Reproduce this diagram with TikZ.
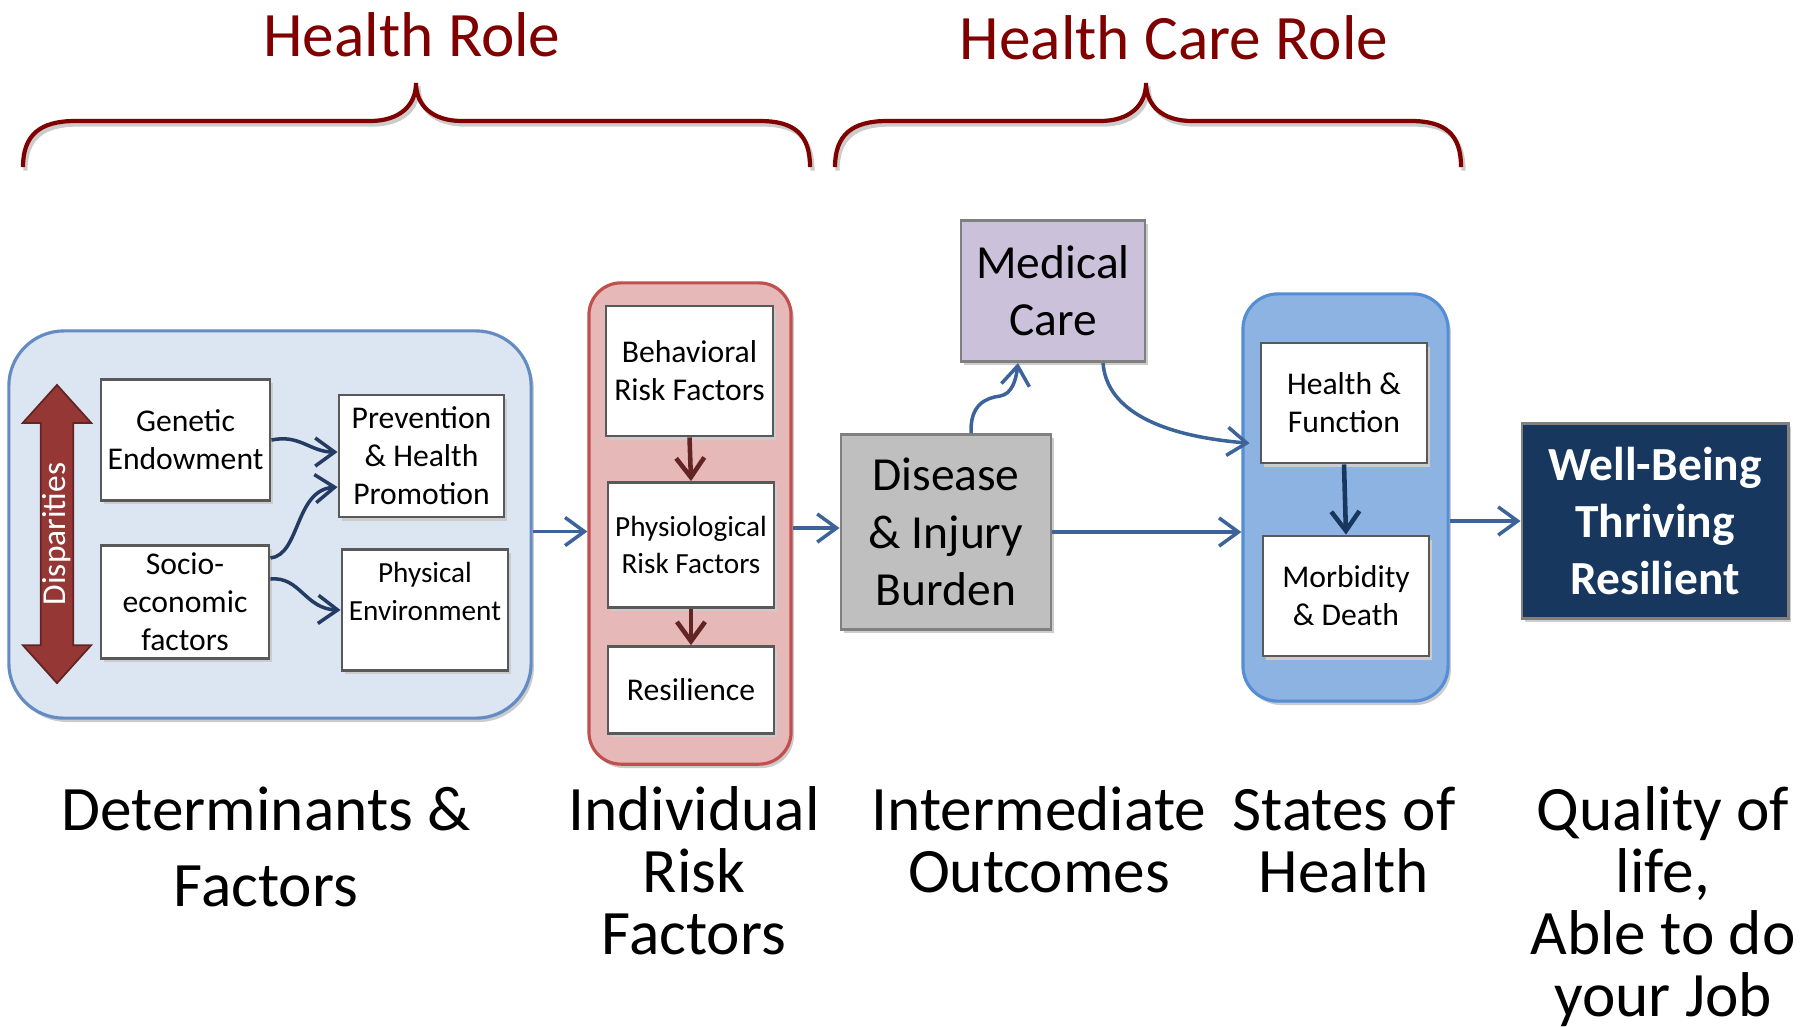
\documentclass[tikz,border=0pt]{standalone}
\usepackage{fontspec}
\setmainfont{Carlito}
\usetikzlibrary{arrows.meta,shapes.arrows,shadows}

\definecolor{rolered}{RGB}{128,0,0}
\definecolor{detfill}{RGB}{220,230,242}
\definecolor{detline}{RGB}{100,140,195}
\definecolor{riskfill}{RGB}{230,185,184}
\definecolor{riskline}{RGB}{192,80,77}
\definecolor{statefill}{RGB}{141,179,226}
\definecolor{stateline}{RGB}{85,142,213}
\definecolor{medfill}{RGB}{204,193,218}
\definecolor{wellfill}{RGB}{23,55,94}
\definecolor{flowblue}{RGB}{60,100,155}
\definecolor{flownavy}{RGB}{36,60,100}
\definecolor{darkred}{RGB}{99,37,35}
\definecolor{disparity}{RGB}{149,55,53}
\definecolor{boxline}{RGB}{89,89,89}

\tikzset{
  shadowed/.style={drop shadow={shadow xshift=0.8pt, shadow yshift=-1.1pt, fill=black!20, opacity=1}},
  smallbox/.style={draw=boxline, fill=white, line width=0.8pt, align=center, inner sep=0pt,
    font=\fontsize{9}{10.8}\selectfont, shadowed},
  bigbox/.style={draw=gray, line width=0.8pt, align=center, inner sep=0pt,
    font=\fontsize{13.5}{16.3}\selectfont, shadowed},
  groupbox/.style={line width=0.9pt, inner sep=0pt, shadowed},
  flow/.style={draw=flowblue, line width=1pt, -{Straight Barb[length=5.5pt,width=8pt]}},
  innerflow/.style={line width=1.3pt, -{Straight Barb[length=5.5pt,width=8pt]}},
  brace/.style={draw=rolered, line width=1.2pt,
    preaction={draw=black!20, line width=1.2pt, transform canvas={shift={(0.7pt,-1pt)}}}},
  role/.style={text=rolered, font=\fontsize{18}{21.6}\selectfont, anchor=base},
  stage/.style={align=center, anchor=north, inner sep=0pt, font=\fontsize{18}{17.6}\selectfont}
}

\begin{document}
\begin{tikzpicture}[x=0.01cm, y=-0.01cm]
  \useasboundingbox (0,0) rectangle (1801,1026);

  % roles and braces
  \node[role] (hrole) at (412,56) {Health Role};
  \node[role] (hcrole) at (1174,59) {Health Care Role};
  \draw[brace] (23,167) .. controls (23,135) and (40,121) .. (75,121) -- (370,121)
    .. controls (400,121) and (416,105) .. (416,83) .. controls (416,105) and (432,121) .. (462,121)
    -- (760,121) .. controls (795,121) and (810,135) .. (810,167);
  \draw[brace] (835,167) .. controls (835,135) and (852,121) .. (887,121) -- (1100,121)
    .. controls (1130,121) and (1146,105) .. (1146,83) .. controls (1146,105) and (1162,121) .. (1192,121)
    -- (1411,121) .. controls (1446,121) and (1461,135) .. (1461,167);

  % group boxes
  \node[groupbox, draw=detline, fill=detfill, rounded corners=0.55cm,
    minimum width=5.22cm, minimum height=3.87cm] (det) at (270,524.5) {};
  \node[groupbox, draw=riskline, fill=riskfill, rounded corners=0.32cm,
    minimum width=2.02cm, minimum height=4.81cm] (rb) at (690,523.5) {};
  \node[groupbox, draw=stateline, fill=statefill, rounded corners=0.35cm,
    minimum width=2.05cm, minimum height=4.07cm] (hs) at (1345.5,497.5) {};

  % determinants
  \node[double arrow, rotate=90, fill=disparity, draw=darkred, line width=0.5pt,
    text=white, font=\fontsize{9.5}{11}\selectfont, inner xsep=0pt, inner ysep=0.3pt,
    minimum height=2.98cm, double arrow head extend=0.18cm, double arrow tip angle=84]
    (disp) at (57,534) {Disparities};
  \node[smallbox, minimum width=1.69cm, minimum height=1.21cm] (gen) at (185.5,440) {Genetic\\Endowment};
  \node[smallbox, minimum width=1.68cm, minimum height=1.13cm] (socio) at (185,602) {Socio-\\economic\\factors};
  \node[smallbox, minimum width=1.65cm, minimum height=1.22cm] (prev) at (421.5,456) {Prevention\\\& Health\\Promotion};
  \node[smallbox, minimum width=1.66cm, minimum height=1.21cm, font=\fontsize{8.3}{10.6}\selectfont]
    (phys) at (425,610) {Physical\\Environment\\~};

  % individual risk factors
  \node[smallbox, minimum width=1.67cm, minimum height=1.30cm] (beh) at (689.5,371) {Behavioral\\Risk Factors};
  \node[smallbox, minimum width=1.66cm, minimum height=1.25cm, font=\fontsize{8.3}{10.4}\selectfont]
    (phy) at (691,545) {Physiological\\Risk Factors};
  \node[smallbox, minimum width=1.66cm, minimum height=0.87cm] (res) at (691,690) {Resilience};

  % outcomes
  \node[bigbox, fill=black!25, minimum width=2.10cm, minimum height=1.95cm] (dis) at (946,532) {Disease\\\& Injury\\Burden};
  \node[bigbox, fill=medfill, minimum width=1.84cm, minimum height=1.41cm] (med) at (1053,291) {Medical\\Care};
  \node[smallbox, minimum width=1.66cm, minimum height=1.20cm] (hf) at (1344,403) {Health \&\\Function};
  \node[smallbox, minimum width=1.66cm, minimum height=1.20cm] (md) at (1346,596) {Morbidity\\\& Death};
  \node[bigbox, fill=wellfill, text=white, minimum width=2.66cm, minimum height=1.95cm,
    font=\fontsize{13.5}{16.3}\selectfont\bfseries] (wb) at (1655,521) {Well-Being\\Thriving\\Resilient};

  % connectors
  \draw[flow, draw=flownavy] (gen.east) .. controls (300,434) and (310,452) .. ([yshift=0.04cm]prev.west);
  \draw[flow, draw=flownavy] ([yshift=0.44cm]socio.east) .. controls (300,555) and (295,490) .. ([yshift=-0.31cm]prev.west);
  \draw[flow, draw=flownavy] ([yshift=0.23cm]socio.east) .. controls (300,576) and (305,609) .. (phys.west);
  \draw[flow] ([yshift=-0.07cm]det.east) -- ([yshift=-0.07cm]det.east -| rb.west);
  \draw[innerflow, draw=darkred] (beh.south) -- (phy.north);
  \draw[innerflow, draw=darkred] (phy.south) -- (res.north);
  \draw[flow] ([yshift=0.04cm]dis.west -| rb.east) -- ([yshift=0.04cm]dis.west);
  \draw[flow] ([xshift=0.25cm]dis.north) .. controls (970,405) and (985,398) .. (1000,396)
    .. controls (1012,394) and (1016,380) .. ([xshift=-0.35cm]med.south);
  \draw[flow, shorten >=0.1cm] ([xshift=0.5cm]med.south) .. controls (1106,405) and (1150,435) .. ([yshift=-0.41cm]hf.west);
  \draw[flow] (dis.east) -- (dis.east -| hs.west);
  \draw[innerflow, draw=wellfill] (hf.south) -- (md.north);
  \draw[flow] (wb.west -| hs.east) -- (wb.west);

  % stage labels
  \node[stage, font=\fontsize{18}{21.8}\selectfont] (detlabel) at (266,786) {Determinants \&\\Factors};
  \node[stage] (risklabel) at (694,786) {Individual\\Risk\\Factors};
  \node[stage] (outlabel) at (1039,786) {Intermediate\\Outcomes};
  \node[stage] (statelabel) at (1344,786) {States of\\Health};
  \node[stage] (qollabel) at (1663,786) {Quality of\\life,\\Able to do\\your Job};
\end{tikzpicture}
\end{document}
